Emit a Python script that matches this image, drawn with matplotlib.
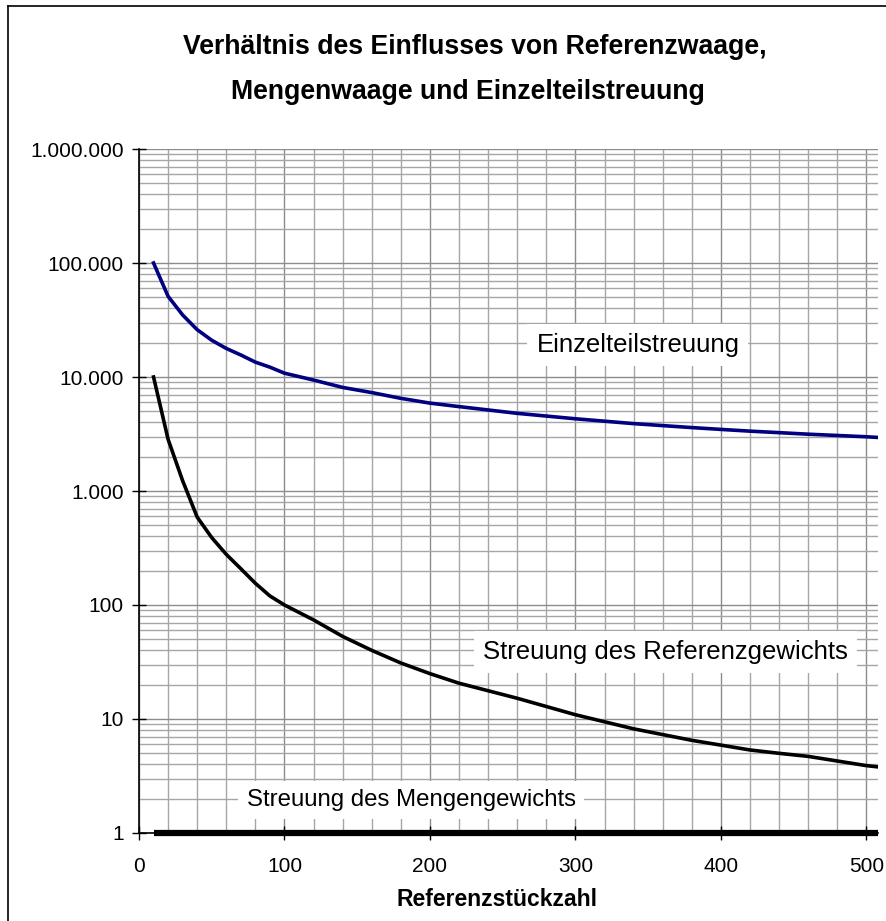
import matplotlib
matplotlib.use("Agg")
import matplotlib.pyplot as plt
from matplotlib.ticker import FixedLocator, FuncFormatter, LogLocator, NullFormatter
from matplotlib.lines import Line2D

plt.rcParams['font.family'] = ['Liberation Sans', 'DejaVu Sans']

# Referenzstückzahl
n = [10, 20, 30, 40, 50, 60, 70, 80, 90, 100, 120, 140, 160, 180, 200,
     220, 260, 300, 340, 380, 400, 420, 440, 460, 500, 508]

einzelteil = [100000, 51000, 35000, 26000, 21000, 17800, 15600, 13500, 12200,
              10800, 9400, 8100, 7300, 6500, 5900, 5500, 4800, 4300, 3900,
              3600, 3470, 3350, 3250, 3150, 2990, 2950]

referenz = [10000, 2840, 1230, 590, 390, 278, 208, 155, 120, 100, 74, 53, 40,
            31, 25, 20.6, 15.2, 10.9, 8.2, 6.5, 5.9, 5.35, 5.0, 4.7, 3.9, 3.8]

menge = [1] * len(n)

title_1 = "Verhältnis des Einflusses von Referenzwaage,"
title_2 = "Mengenwaage und Einzelteilstreuung"

W, H = 887, 921
fig = plt.figure(figsize=(W / 100, H / 100), dpi=100)
ax = fig.add_axes([139 / W, 1 - 833 / H, (878 - 139) / W, (833 - 149) / H])

ax.set_yscale('log')
ax.set_xlim(0, 508)
ax.set_ylim(1, 1e6)

ax.plot(n, einzelteil, color='#000080', lw=2.6, solid_joinstyle='round', zorder=3)
ax.plot(n, referenz, color='black', lw=2.6, solid_joinstyle='round', zorder=3)
ax.plot(n, menge, color='black', lw=4.5, solid_capstyle='butt', zorder=4, clip_on=False)

# grid
ax.xaxis.set_major_locator(FixedLocator([0, 100, 200, 300, 400, 500]))
ax.xaxis.set_minor_locator(FixedLocator(list(range(20, 501, 20))))
ax.xaxis.set_minor_formatter(NullFormatter())
ax.yaxis.set_major_locator(LogLocator(base=10, numticks=10))
ax.yaxis.set_minor_locator(LogLocator(base=10, subs=range(2, 10), numticks=20))
ax.yaxis.set_minor_formatter(NullFormatter())
ax.yaxis.set_major_formatter(FuncFormatter(lambda v, p: f"{int(round(v)):,}".replace(",", ".")))

ax.grid(which='major', color='#8c8c8c', lw=1.0)
ax.grid(which='minor', color='#a6a6a6', lw=1.0)
ax.set_axisbelow(True)

for s in ['top', 'right']:
    ax.spines[s].set_visible(False)
ax.spines['left'].set_linewidth(1.2)
ax.spines['bottom'].set_linewidth(1.2)

ax.tick_params(axis='both', which='major', direction='inout', length=10, width=1,
               labelsize=15)
ax.tick_params(axis='y', which='major', pad=6)
ax.tick_params(axis='x', which='major', pad=12)
ax.tick_params(axis='both', which='minor', length=0)

fig.text(497 / W, 1 - 899 / H, "Referenzstückzahl", ha='center', va='center',
         fontsize=16.5, fontweight='bold')
fig.text(475 / W, 1 - 47 / H, title_1, ha='center', va='center',
         fontsize=19.2, fontweight='bold')
fig.text(468 / W, 1 - 92 / H, title_2, ha='center', va='center',
         fontsize=19.2, fontweight='bold')

box = dict(boxstyle='square,pad=0.35', fc='white', ec='none')
ax.text(343, 19000, "Einzelteilstreuung", fontsize=18.5, ha='center', va='center',
        bbox=box, zorder=5)
ax.text(362, 38.7, "Streuung des Referenzgewichts", fontsize=18.5, ha='center',
        va='center', bbox=box, zorder=5)
ax.text(187, 1.95, "Streuung des Mengengewichts", fontsize=17.3, ha='center',
        va='center', bbox=box, zorder=5)

# outer frame
fig.add_artist(Line2D([8 / W, 8 / W], [0, 1 - 6 / H], color='black', lw=1.2,
                      transform=fig.transFigure))
fig.add_artist(Line2D([8 / W, 1], [1 - 6 / H, 1 - 6 / H], color='black', lw=1.2,
                      transform=fig.transFigure))

fig.savefig("out.png", dpi=100)
